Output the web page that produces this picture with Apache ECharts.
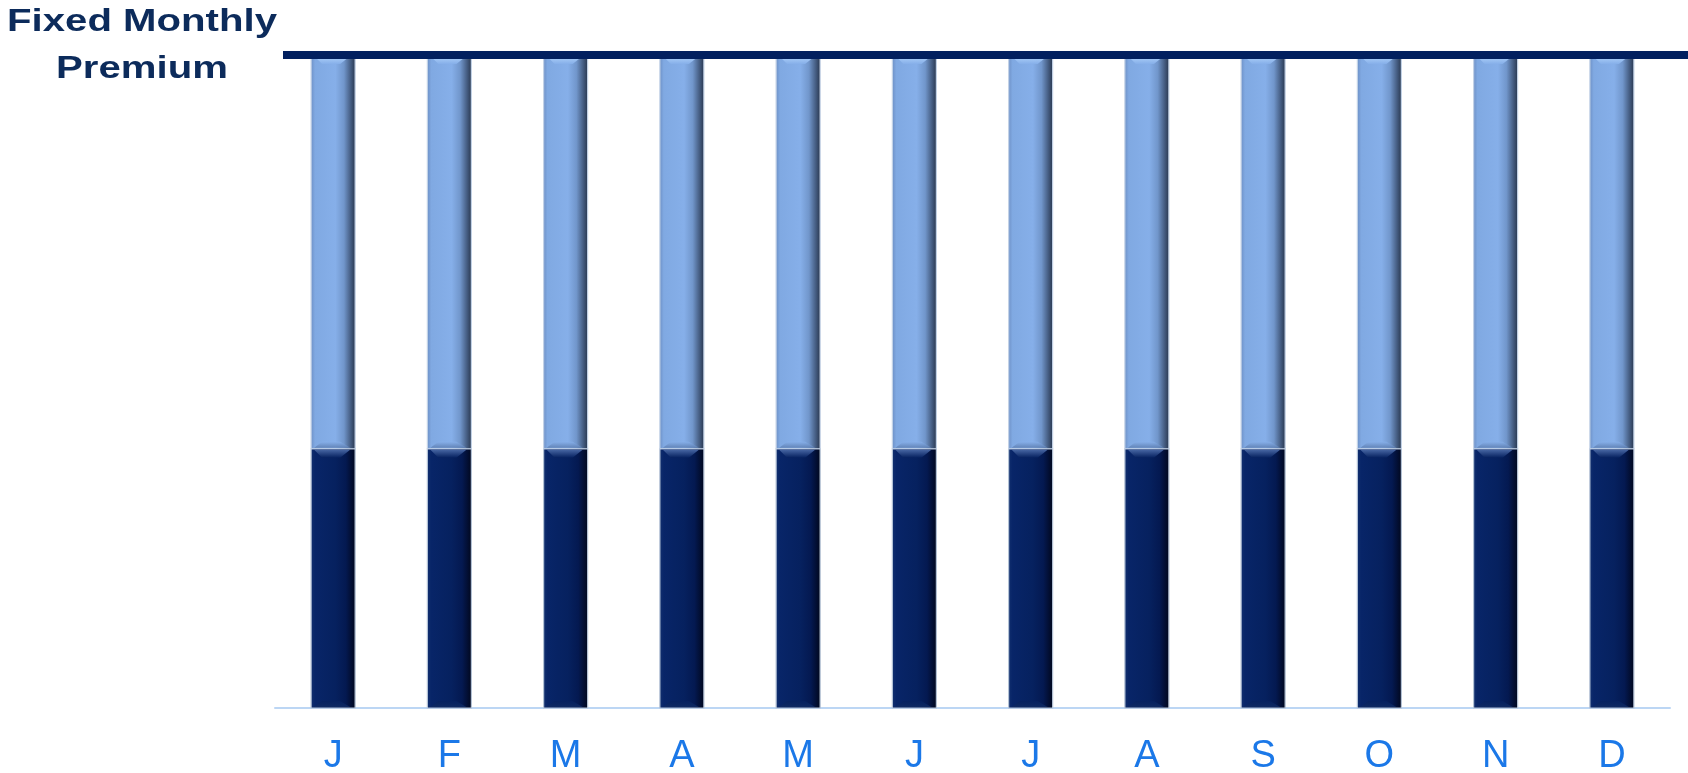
<!DOCTYPE html>
<html>
<head>
<meta charset="utf-8">
<script src="https://cdn.jsdelivr.net/npm/echarts@6.0.0/dist/echarts.min.js"></script>
<style>
html,body{margin:0;padding:0;background:#ffffff;}
#chart{width:1688px;height:773px;}
</style>
</head>
<body>
<div id="chart"></div>
<script>
// ---- data ----
const months = ['J','F','M','A','M','J','J','A','S','O','N','D'];
const baseValues = [39.7,39.7,39.7,39.7,39.7,39.7,39.7,39.7,39.7,39.7,39.7,39.7];   // dark lower segment
const upperValues = [60.3,60.3,60.3,60.3,60.3,60.3,60.3,60.3,60.3,60.3,60.3,60.3];  // light upper segment
const premiumLevel = 100;                                    // fixed monthly premium line
const titleLines = ['Fixed Monthly','Premium'];

// ---- styles ----
const lightPal = {
  stops: [[0,'#6c8ec3'],[0.1,'#80a9e2'],[0.55,'#86afe9'],[0.74,'#7196cb'],[0.9,'#42597d'],[1,'#27344a']],
  topHi: '#b2d4fb', bottom: '#5f80b3', border: '#c3d2e6'
};
const darkPal = {
  stops: [[0,'#12306f'],[0.1,'#082568'],[0.55,'#06215f'],[0.78,'#041951'],[0.92,'#020d2f'],[1,'#01081c']],
  topHi: '#4a69a6', bottom: '#0f2a62', border: '#b4c2d6'
};

function hGrad(pal){
  return new echarts.graphic.LinearGradient(0,0,1,0, pal.stops.map(s=>({offset:s[0], color:s[1]})));
}
function vGrad(c1, c2){
  return new echarts.graphic.LinearGradient(0,0,0,1,[{offset:0,color:c1},{offset:1,color:c2}]);
}

function makeRender(pal){
  return function(params, api){
    const i = api.value(0), lo = api.value(1), hi = api.value(2);
    const pLo = api.coord([i, lo]);
    const pHi = api.coord([i, hi]);
    const w = 44;
    const x0 = pLo[0] - w/2, x1 = x0 + w;
    const yT = pHi[1], yB = pLo[1];
    const b = 9;
    return {
      type: 'group',
      children: [
        {type:'rect', shape:{x:x0, y:yT, width:w, height:yB-yT},
         style:{fill:hGrad(pal), stroke:pal.border, lineWidth:1.2}},
        {type:'polygon', shape:{points:[[x0+3,yT+1],[x1-5,yT+1],[x1-b-6,yT+b],[x0+b+2,yT+b]]},
         style:{fill:vGrad(pal.topHi, pal.stops[2][1]), opacity:0.95}},
        {type:'polygon', shape:{points:[[x0+b+2,yB-b+2],[x1-b-6,yB-b+2],[x1-5,yB-1],[x0+3,yB-1]]},
         style:{fill:vGrad(pal.stops[2][1], pal.bottom), opacity:0.9}}
      ]
    };
  };
}

const darkData = months.map((m,i)=>[i, 0, baseValues[i]]);
const lightData = months.map((m,i)=>[i, baseValues[i], baseValues[i]+upperValues[i]]);

const chart = echarts.init(document.getElementById('chart'), null, {renderer:'canvas'});
chart.setOption({
  animation: false,
  backgroundColor: '#ffffff',
  grid: {left: 275, right: 18, top: 55, bottom: 65, containLabel: false, outerBoundsMode: 'none'},
  xAxis: {
    type: 'category',
    data: months,
    boundaryGap: true,
    axisLine: {show:true, lineStyle:{color:'#bcd6f4', width:2}},
    axisTick: {show:false},
    splitLine: {show:false},
    axisLabel: {interval:0, color:'#1b78e8', fontSize:38, fontFamily:'"Liberation Sans", Arial, sans-serif', margin:30}
  },
  yAxis: {
    type: 'value', min: 0, max: premiumLevel, show: false
  },
  graphic: titleLines.map((t,k)=>({
    type: 'text',
    x: 142, y: 22 + k*47,
    scaleX: 1.255,
    style: {
      text: t, fill: '#0c2b5b',
      font: 'bold 32px "Liberation Sans", Arial, sans-serif',
      align: 'center', verticalAlign: 'middle',
      textAlign: 'center', textVerticalAlign: 'middle'
    }
  })),
  series: [
    {
      type: 'custom', name: 'Base', renderItem: makeRender(darkPal),
      encode: {x:0, y:[1,2]}, data: darkData, z: 2
    },
    {
      type: 'custom', name: 'Upper', renderItem: makeRender(lightPal),
      encode: {x:0, y:[1,2]}, data: lightData, z: 2,
      markLine: {
        silent: true, symbol: 'none', label: {show:false},
        lineStyle: {color:'#02205f', width:8, type:'solid', opacity:1},
        emphasis: {disabled:true},
        data: [[{x:283, yAxis:premiumLevel},{x:'100%', yAxis:premiumLevel}]]
      }
    }
  ]
});
</script>
</body>
</html>
